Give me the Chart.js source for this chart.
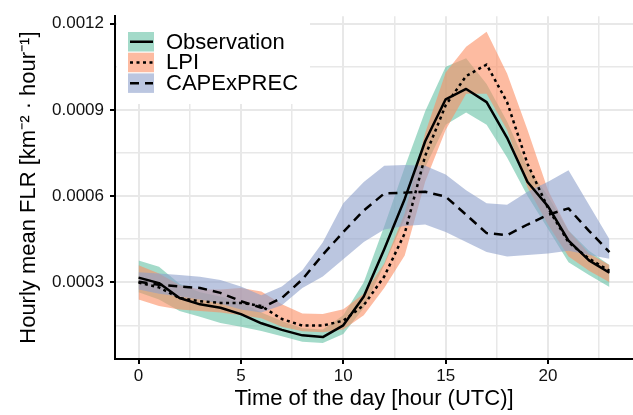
<!DOCTYPE html>
<html>
<head>
<meta charset="utf-8">
<script src="https://cdn.jsdelivr.net/npm/chart.js@4.4.1/dist/chart.umd.min.js"></script>
<style>
    html, body { margin: 0; padding: 0; background: #fff; }
    #wrap { width: 633px; height: 415px; }
</style>
</head>
<body>
<div id="wrap"><canvas id="flrChart" width="633" height="415"></canvas></div>
<script>
const hours = [0, 1, 2, 3, 4, 5, 6, 7, 8, 9, 10, 11, 12, 13, 14, 15, 16, 17, 18, 19, 20, 21, 22, 23];

const obsMean  = [0.000316, 0.000297, 0.000245, 0.000223, 0.000211, 0.000189, 0.000157, 0.000134, 0.000115, 0.000109, 0.000150, 0.000250, 0.000415, 0.000590, 0.000791, 0.000937, 0.000973, 0.000927, 0.000803, 0.000649, 0.000564, 0.000445, 0.000376, 0.000333];
const obsUpper = [0.000376, 0.000354, 0.000295, 0.000265, 0.000250, 0.000230, 0.000195, 0.000165, 0.000140, 0.000135, 0.000185, 0.000300, 0.000495, 0.000700, 0.000895, 0.001050, 0.001080, 0.000990, 0.000860, 0.000700, 0.000600, 0.000480, 0.000410, 0.000360];
const obsLower = [0.000265, 0.000240, 0.000200, 0.000180, 0.000158, 0.000145, 0.000130, 0.000112, 0.000093, 0.000088, 0.000120, 0.000210, 0.000360, 0.000520, 0.000700, 0.000848, 0.000891, 0.000848, 0.000734, 0.000600, 0.000485, 0.000370, 0.000325, 0.000283];

const lpiMean  = [0.000299, 0.000282, 0.000245, 0.000234, 0.000228, 0.000228, 0.000217, 0.000172, 0.000149, 0.000149, 0.000166, 0.000220, 0.000320, 0.000470, 0.000740, 0.000916, 0.001018, 0.001058, 0.000927, 0.000712, 0.000558, 0.000439, 0.000382, 0.000340];
const lpiUpper = [0.000359, 0.000330, 0.000290, 0.000275, 0.000275, 0.000280, 0.000268, 0.000223, 0.000191, 0.000189, 0.000206, 0.000260, 0.000365, 0.000540, 0.000820, 0.001030, 0.001120, 0.001172, 0.001027, 0.000830, 0.000620, 0.000480, 0.000400, 0.000360];
const lpiLower = [0.000240, 0.000217, 0.000205, 0.000200, 0.000195, 0.000185, 0.000175, 0.000145, 0.000129, 0.000126, 0.000135, 0.000185, 0.000280, 0.000393, 0.000650, 0.000830, 0.000956, 0.000956, 0.000830, 0.000630, 0.000500, 0.000390, 0.000340, 0.000300];

const capeMean  = [0.000302, 0.000291, 0.000285, 0.000280, 0.000263, 0.000234, 0.000211, 0.000245, 0.000310, 0.000396, 0.000475, 0.000550, 0.000609, 0.000612, 0.000615, 0.000598, 0.000535, 0.000471, 0.000464, 0.000501, 0.000535, 0.000557, 0.000479, 0.000405];
const capeUpper = [0.000335, 0.000330, 0.000325, 0.000319, 0.000308, 0.000285, 0.000255, 0.000285, 0.000342, 0.000439, 0.000575, 0.000649, 0.000706, 0.000708, 0.000706, 0.000675, 0.000620, 0.000575, 0.000570, 0.000615, 0.000650, 0.000690, 0.000570, 0.000450];
const capeLower = [0.000275, 0.000260, 0.000250, 0.000240, 0.000225, 0.000205, 0.000195, 0.000220, 0.000280, 0.000320, 0.000380, 0.000440, 0.000484, 0.000496, 0.000501, 0.000475, 0.000440, 0.000405, 0.000390, 0.000395, 0.000400, 0.000410, 0.000395, 0.000382];

const seriesNames = ['Observation', 'LPI', 'CAPExPREC'];

const xMajor = [0, 5, 10, 15, 20];
const xMinor = [2.5, 7.5, 12.5, 17.5, 22.5];
const yMajor = [0.0003, 0.0006, 0.0009, 0.0012];
const yMinor = [0.00015, 0.00045, 0.00075, 0.00105];
const yLabels = ['0.0003', '0.0006', '0.0009', '0.0012'];

// styles
const ribbonColors = ['rgba(102,194,165,0.6)', 'rgba(252,141,98,0.6)', 'rgba(141,160,203,0.6)'];
const lineDashes = [[], [3, 3.5], [9, 6]];
const LW = 2.5;
const FONT = "'Liberation Sans', Arial, sans-serif";
Chart.defaults.font.family = FONT;

const pts = arr => arr.map((v, i) => ({x: hours[i], y: v}));

function meanLine(i, data) {
    return {
        label: seriesNames[i], data: pts(data),
        borderColor: '#000', borderWidth: LW, borderDash: lineDashes[i],
        borderJoinStyle: 'round', pointRadius: 0, tension: 0, fill: false
    };
}
function edge(data, fill, color) {
    return { data: pts(data), borderWidth: 0, pointRadius: 0, tension: 0, fill: fill, backgroundColor: color };
}

// index 0 is drawn last (on top)
const datasets = [
    meanLine(0, obsMean),
    meanLine(1, lpiMean),
    meanLine(2, capeMean),
    edge(capeUpper, false, 'transparent'),
    edge(capeLower, {target: 3}, ribbonColors[2]),
    edge(lpiUpper, false, 'transparent'),
    edge(lpiLower, {target: 5}, ribbonColors[1]),
    edge(obsUpper, false, 'transparent'),
    edge(obsLower, {target: 7}, ribbonColors[0])
];

const legendBox = {
    id: 'legendBox',
    afterDatasetsDraw(chart) {
        const ctx = chart.ctx;
        ctx.save();
        ctx.fillStyle = '#fff';
        ctx.fillRect(117, 9, 193, 95);
        seriesNames.forEach((name, i) => {
            const top = 32 + i * 20.7;
            ctx.fillStyle = ribbonColors[i];
            ctx.fillRect(128, top, 26, 19.5);
            ctx.strokeStyle = '#000';
            ctx.lineWidth = LW;
            ctx.setLineDash(lineDashes[i]);
            ctx.beginPath();
            ctx.moveTo(130, top + 9.75);
            ctx.lineTo(153, top + 9.75);
            ctx.stroke();
            ctx.setLineDash([]);
            ctx.fillStyle = '#000';
            ctx.font = '22px ' + FONT;
            ctx.textBaseline = 'middle';
            ctx.fillText(name, 166, top + 10.5);
        });
        ctx.restore();
    }
};

new Chart(document.getElementById('flrChart').getContext('2d'), {
    type: 'line',
    data: { datasets },
    plugins: [legendBox],
    options: {
        responsive: false,
        animation: false,
        layout: { padding: { top: 9, right: 0, left: 0, bottom: 0 } },
        plugins: { legend: { display: false }, tooltip: { enabled: false } },
        scales: {
            x: {
                type: 'linear', min: -1.15, max: 24.15,
                afterBuildTicks: s => { s.ticks = [...xMajor, ...xMinor].sort((a, b) => a - b).map(v => ({value: v})); },
                afterFit: s => { s.height = 56; },
                ticks: {
                    autoSkip: false, maxRotation: 0, padding: 2, color: '#111', font: { size: 17 },
                    callback: v => xMajor.includes(v) ? String(v) : ''
                },
                grid: {
                    color: '#e8e8e8',
                    lineWidth: c => xMajor.includes(c.tick.value) ? 2 : 1.5,
                    tickColor: c => xMajor.includes(c.tick.value) ? '#000' : 'rgba(0,0,0,0)',
                    tickWidth: 2, tickLength: 5
                },
                border: { color: '#000', width: 2 },
                title: {
                    display: true, text: 'Time of the day [hour (UTC)]', color: '#000',
                    font: { size: 22 }, padding: { top: 0, bottom: 3 }
                }
            },
            y: {
                type: 'linear', min: 0.0000327, max: 0.0012263,
                afterBuildTicks: s => { s.ticks = [...yMajor, ...yMinor].sort((a, b) => a - b).map(v => ({value: v})); },
                afterFit: s => { s.width = 115; },
                ticks: {
                    autoSkip: false, padding: 6, color: '#111', font: { size: 17 },
                    callback: v => { const k = yMajor.indexOf(v); return k >= 0 ? yLabels[k] : ''; }
                },
                grid: {
                    color: '#e8e8e8',
                    lineWidth: c => yMajor.includes(c.tick.value) ? 2 : 1.5,
                    tickColor: c => yMajor.includes(c.tick.value) ? '#000' : 'rgba(0,0,0,0)',
                    tickWidth: 2, tickLength: 5
                },
                border: { color: '#000', width: 2 },
                title: {
                    display: true, text: 'Hourly mean FLR [km\u207B\u00B2 \u00B7 hour\u207B\u00B9]', color: '#000',
                    font: { size: 22 }, padding: { top: 16, bottom: 0 }
                }
            }
        }
    }
});
</script>
</body>
</html>
